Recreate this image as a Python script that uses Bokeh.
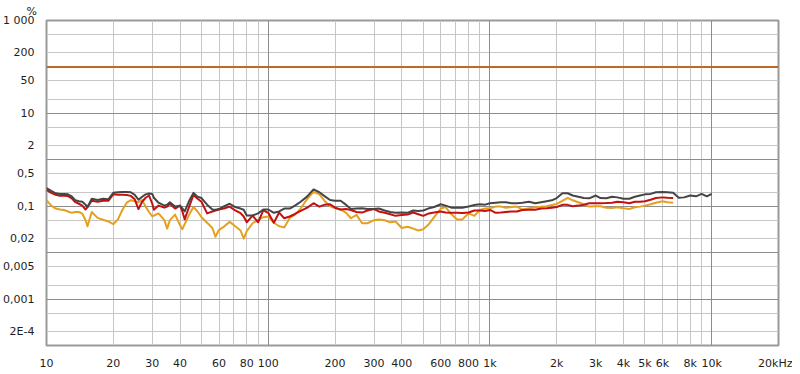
from bokeh.plotting import figure
from bokeh.models import FixedTicker, Grid, Range1d, Title
from bokeh.embed import file_html
from bokeh.resources import INLINE

# ---------------- data ----------------
freq = [10, 10.5, 11, 11.5, 12, 12.5, 13, 13.5, 14, 14.5,
        15, 15.3, 16, 17, 18, 19, 20, 21, 22, 23,
        24, 25, 26, 27, 28, 29, 30, 30.5, 32, 34,
        35, 36, 38, 40, 41, 42, 44, 46, 48, 50,
        53, 56, 57.8, 60, 63, 67, 71, 75, 77.5, 80,
        85, 90, 95, 100, 106, 112, 118, 125, 132, 140,
        150, 160, 170, 180, 190, 200, 212, 224, 236, 250,
        265, 280, 300, 315, 335, 355, 375, 400, 425, 450,
        475, 500, 530, 560, 600, 630, 670, 710, 750, 800,
        850, 900, 950, 1000, 1060, 1120, 1180, 1250, 1320, 1400,
        1500, 1600, 1700, 1800, 1900, 2000, 2120, 2240, 2360, 2500,
        2650, 2800, 3000, 3150, 3350, 3550, 3750, 4000, 4250, 4500,
        4750, 5000, 5300, 5600, 6000, 6300, 6700, 7100, 7500, 8000,
        8500, 9000, 9500, 10000]

thd_gray = [0.247, 0.213, 0.19, 0.184, 0.184, 0.18, 0.163, 0.134, 0.128, 0.125,
            0.108, 0.095, 0.145, 0.136, 0.145, 0.141, 0.194, 0.2, 0.203, 0.203,
            0.2, 0.176, 0.138, 0.16, 0.18, 0.187, 0.184, 0.152, 0.119, 0.103,
            0.108, 0.122, 0.099, 0.103, 0.09, 0.077, 0.131, 0.194, 0.16, 0.15,
            0.108, 0.085, 0.084, 0.087, 0.099, 0.113, 0.096, 0.089, 0.084, 0.063,
            0.063, 0.07, 0.085, 0.085, 0.072, 0.077, 0.089, 0.089, 0.103, 0.125,
            0.163, 0.23, 0.2, 0.163, 0.136, 0.131, 0.131, 0.108, 0.087, 0.089,
            0.09, 0.087, 0.087, 0.089, 0.081, 0.075, 0.072, 0.073, 0.072, 0.081,
            0.079, 0.081, 0.09, 0.096, 0.11, 0.103, 0.093, 0.093, 0.093, 0.099,
            0.106, 0.11, 0.108, 0.116, 0.119, 0.122, 0.122, 0.116, 0.116, 0.119,
            0.125, 0.116, 0.122, 0.128, 0.134, 0.15, 0.19, 0.19, 0.17, 0.16,
            0.15, 0.148, 0.17, 0.15, 0.148, 0.16, 0.155, 0.145, 0.145, 0.16,
            0.17, 0.18, 0.184, 0.2, 0.203, 0.2, 0.194, 0.152, 0.155, 0.17,
            0.163, 0.184, 0.163, 0.184]

thd_red = [0.224, 0.194, 0.176, 0.167, 0.167, 0.165, 0.148, 0.122, 0.113, 0.103,
           0.085, 0.096, 0.131, 0.125, 0.131, 0.131, 0.18, 0.176, 0.176, 0.175,
           0.167, 0.141, 0.087, 0.125, 0.152, 0.17, 0.113, 0.084, 0.103, 0.093,
           0.098, 0.113, 0.089, 0.103, 0.077, 0.052, 0.098, 0.175, 0.145, 0.125,
           0.07, 0.077, 0.081, 0.085, 0.089, 0.098, 0.081, 0.071, 0.06, 0.045,
           0.063, 0.045, 0.081, 0.072, 0.044, 0.073, 0.055, 0.06, 0.068, 0.079,
           0.093, 0.116, 0.098, 0.108, 0.11, 0.093, 0.085, 0.087, 0.083, 0.075,
           0.073, 0.081, 0.087, 0.077, 0.072, 0.067, 0.062, 0.065, 0.066, 0.073,
           0.067, 0.062, 0.07, 0.073, 0.077, 0.073, 0.072, 0.072, 0.071, 0.073,
           0.081, 0.081, 0.079, 0.083, 0.072, 0.073, 0.075, 0.077, 0.077, 0.083,
           0.084, 0.084, 0.089, 0.09, 0.093, 0.096, 0.107, 0.107, 0.1, 0.103,
           0.108, 0.116, 0.116, 0.116, 0.117, 0.119, 0.125, 0.122, 0.116, 0.125,
           0.125, 0.128, 0.138, 0.15, 0.155, 0.152, 0.15]

thd_orange = [0.135, 0.103, 0.089, 0.085, 0.083, 0.077, 0.072, 0.075, 0.075, 0.069,
              0.05, 0.037, 0.075, 0.056, 0.051, 0.047, 0.041, 0.052, 0.084, 0.119,
              0.135, 0.128, 0.122, 0.135, 0.098, 0.075, 0.06, 0.063, 0.07, 0.05,
              0.033, 0.05, 0.066, 0.039, 0.032, 0.041, 0.066, 0.096, 0.077, 0.058,
              0.044, 0.034, 0.022, 0.031, 0.036, 0.046, 0.037, 0.03, 0.02, 0.029,
              0.043, 0.051, 0.058, 0.06, 0.044, 0.037, 0.035, 0.056, 0.066, 0.089,
              0.145, 0.203, 0.18, 0.128, 0.1, 0.091, 0.084, 0.073, 0.055, 0.065,
              0.043, 0.043, 0.05, 0.052, 0.05, 0.045, 0.047, 0.034, 0.036, 0.033,
              0.03, 0.032, 0.041, 0.058, 0.089, 0.096, 0.067, 0.052, 0.052, 0.07,
              0.062, 0.083, 0.089, 0.09, 0.098, 0.098, 0.093, 0.096, 0.098, 0.085,
              0.09, 0.095, 0.097, 0.1, 0.106, 0.112, 0.131, 0.152, 0.134, 0.122,
              0.11, 0.098, 0.1, 0.1, 0.093, 0.091, 0.095, 0.09, 0.087, 0.095,
              0.098, 0.103, 0.11, 0.119, 0.128, 0.122, 0.119]

ref_freq = [10, 20000]
ref_level = [100, 100]

x_tick_values = [10, 20, 30, 40, 60, 80, 100, 200, 300, 400, 600, 800,
                 1000, 2000, 3000, 4000, 5000, 6000, 8000, 10000, 20000]
x_tick_labels = ["10", "20", "30", "40", "60", "80", "100", "200", "300", "400", "600", "800",
                 "1k", "2k", "3k", "4k", "5k", "6k", "8k", "10k", "20kHz"]
y_tick_values = [1000, 200, 50, 10, 2, 0.5, 0.1, 0.02, 0.005, 0.001, 0.0002]
y_tick_labels = ["1 000", "200", "50", "10", "2", "0,5", "0,1", "0,02", "0,005", "0,001", "2E-4"]
y_unit = "%"

x_major_grid = [100, 1000, 10000]
x_minor_grid = [20, 30, 40, 50, 60, 70, 80, 90,
                200, 300, 400, 500, 600, 700, 800, 900,
                2000, 3000, 4000, 5000, 6000, 7000, 8000, 9000]
y_major_grid = [0.001, 0.01, 0.1, 1, 10, 100]
y_minor_grid = [0.0002, 0.0005, 0.002, 0.005, 0.02, 0.05, 0.2, 0.5,
                2, 5, 20, 50, 200, 500]

# ---------------- figure ----------------
FONT = "DejaVu Sans"
TXT = "#1e1e1e"

p = figure(width=792, height=372, x_axis_type="log", y_axis_type="log",
           x_range=Range1d(10, 20000), y_range=Range1d(1e-4, 1e3),
           output_backend="svg", toolbar_location=None,
           min_border_left=44, min_border_right=14, min_border_top=18, min_border_bottom=22,
           background_fill_color="white", border_fill_color="white")
p.title = Title(text=y_unit, align="left", offset=-20, standoff=5,
                text_font=FONT, text_font_size="11px", text_font_style="normal",
                text_color=TXT)
p.xgrid.visible = False
p.ygrid.visible = False
p.outline_line_color = "#9a9a9a"
p.outline_line_width = 2

for dim, ticks, color in [(0, x_minor_grid, "#c6c6c6"), (1, y_minor_grid, "#c6c6c6"),
                          (0, x_major_grid, "#8c8c8c"), (1, y_major_grid, "#8c8c8c")]:
    p.add_layout(Grid(dimension=dim, ticker=FixedTicker(ticks=ticks),
                      grid_line_color=color, grid_line_width=1))

for ax, vals, labs in [(p.xaxis[0], x_tick_values, x_tick_labels),
                       (p.yaxis[0], y_tick_values, y_tick_labels)]:
    ax.ticker = FixedTicker(ticks=vals)
    ax.major_label_overrides = dict(zip(vals, labs))
    ax.major_tick_line_color = None
    ax.minor_tick_line_color = None
    ax.axis_line_color = None
    ax.major_label_text_font = FONT
    ax.major_label_text_font_size = "11px"
    ax.major_label_text_color = TXT

p.xaxis[0].major_label_standoff = 5
p.yaxis[0].major_label_standoff = 6

p.line(ref_freq, ref_level, line_color="#bb6a2c", line_width=2)
p.line(freq[:len(thd_orange)], thd_orange, line_color="#e6a020", line_width=2, line_join="round")
p.line(freq[:len(thd_red)], thd_red, line_color="#c41010", line_width=2, line_join="round")
p.line(freq[:len(thd_gray)], thd_gray, line_color="#454545", line_width=2, line_join="round")

open("out.html", "w").write(file_html(p, INLINE))
